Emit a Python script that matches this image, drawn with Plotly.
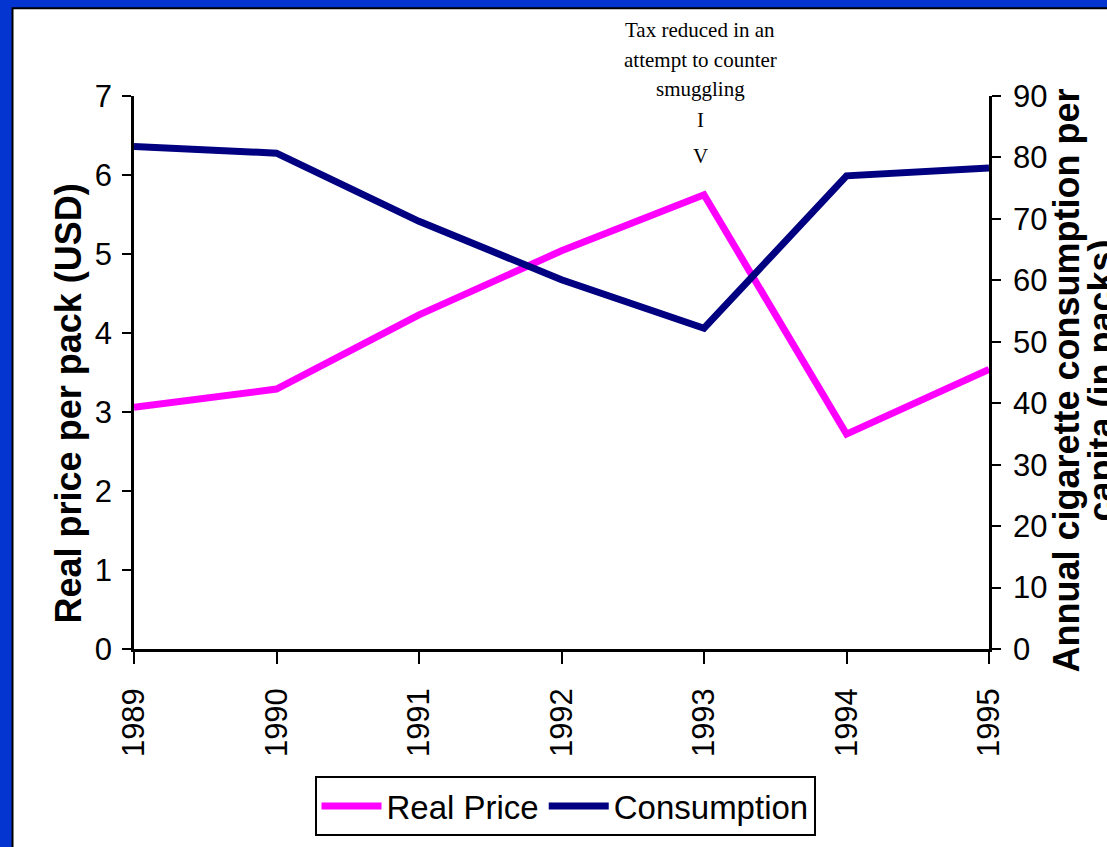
import plotly.graph_objects as go

years = [1989, 1990, 1991, 1992, 1993, 1994, 1995]
real_price = [3.06, 3.29, 4.23, 5.04, 5.75, 2.72, 3.54]
consumption = [81.8, 80.7, 69.6, 60.1, 52.2, 77.0, 78.3]
note_lines = ["Tax reduced in an", "attempt to counter", "smuggling", "I", "V"]

W, H = 1107, 847
L, R, T, B = 134, 1107 - 989, 96, 847 - 650
PW, PH = W - L - R, H - T - B


def px_x(px):
    return (px - L) / PW


def px_y(py):
    return (H - B - py) / PH


NARROW = "Liberation Sans Narrow, Arial Narrow, Liberation Sans, Arial"
SANS = "Liberation Sans, Arial"
SERIF = "Liberation Serif, Times New Roman"
TICK = 31

fig = go.Figure()
fig.add_trace(go.Scatter(x=years, y=real_price, name="Real Price", mode="lines",
                         line=dict(color="#FF00FF", width=7)))
fig.add_trace(go.Scatter(x=years, y=consumption, name="Consumption", mode="lines",
                         line=dict(color="#000080", width=7), yaxis="y2"))

annotations = []
annotations.append(dict(text="<b>Real price per pack (USD)</b>", textangle=-90,
                        xref="paper", yref="paper", x=px_x(68), y=px_y(404),
                        xanchor="center", yanchor="middle", showarrow=False,
                        font=dict(family=SANS, size=36, color="black")))
annotations.append(dict(text="<b>Annual cigarette consumption per</b>", textangle=-90,
                        xref="paper", yref="paper", x=px_x(1066), y=px_y(381),
                        xanchor="center", yanchor="middle", showarrow=False,
                        font=dict(family=SANS, size=36, color="black")))
annotations.append(dict(text="<b>capita (in packs)</b>", textangle=-90,
                        xref="paper", yref="paper", x=px_x(1101), y=px_y(381),
                        xanchor="center", yanchor="middle", showarrow=False,
                        font=dict(family=SANS, size=36, color="black")))
note_y = [30, 60, 89, 120, 156]
for txt, py in zip(note_lines, note_y):
    annotations.append(dict(text=txt, xref="paper", yref="paper", x=px_x(700), y=px_y(py),
                            xanchor="center", yanchor="middle", showarrow=False,
                            font=dict(family=SERIF, size=21, color="black")))

shapes = [
    dict(type="rect", xref="paper", yref="paper", layer="below",
         x0=px_x(12.5), x1=px_x(1130), y0=px_y(8), y1=px_y(880),
         fillcolor="white", line=dict(color="black", width=2)),
]

fig.update_layout(
    width=W, height=H,
    margin=dict(l=L, r=R, t=T, b=B, pad=0),
    paper_bgcolor="#0535D0",
    plot_bgcolor="rgba(0,0,0,0)",
    showlegend=True,
    legend=dict(orientation="h", x=px_x(565), xanchor="center", y=px_y(776), yanchor="top",
                bgcolor="white", bordercolor="black", borderwidth=2,
                font=dict(family=NARROW, size=33, color="black"),
                itemwidth=60, tracegroupgap=0),
    xaxis=dict(range=[1989, 1995], tickvals=years, ticktext=[str(y) for y in years],
               tickangle=-90, showline=True, linecolor="black", linewidth=2.5,
               ticks="outside", ticklen=12, tickwidth=2, tickcolor="black",
               showgrid=False, zeroline=False, ticklabelstandoff=12,
               tickfont=dict(family=NARROW, size=TICK, color="black")),
    yaxis=dict(range=[0, 7], dtick=1, showline=True, linecolor="black", linewidth=2.5,
               ticks="outside", ticklen=9, tickwidth=2, tickcolor="black",
               showgrid=False, zeroline=False, ticklabelstandoff=4,
               tickfont=dict(family=NARROW, size=TICK, color="black")),
    yaxis2=dict(range=[0, 90], dtick=10, overlaying="y", side="right",
                showline=True, linecolor="black", linewidth=2.5,
                ticks="outside", ticklen=9, tickwidth=2, tickcolor="black",
                showgrid=False, zeroline=False, ticklabelstandoff=6,
                tickfont=dict(family=NARROW, size=TICK, color="black")),
    annotations=annotations,
    shapes=shapes,
)

fig.write_html("out.html", config={"displayModeBar": False},
               post_script="document.body.style.margin='0';")
